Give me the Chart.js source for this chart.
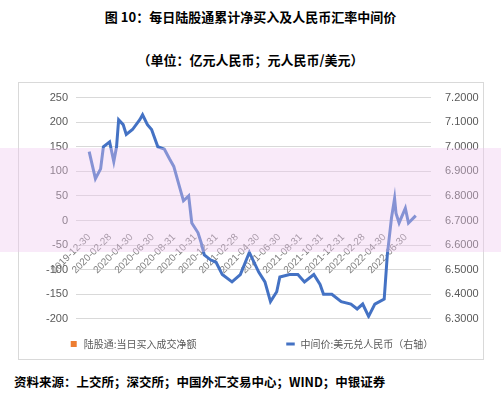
<!DOCTYPE html>
<html>
<head>
<meta charset="utf-8">
<script src="https://cdn.jsdelivr.net/npm/chart.js@4"></script>
<style>
  body { margin: 0; width: 501px; height: 400px; background: #fff; position: relative; overflow: hidden;
         font-family: "Noto Sans CJK SC", sans-serif; }
  .title { position: absolute; top: 7px; width: 100%; text-align: center; font-size: 13px; font-weight: bold; color: #000; }
  .sub { position: absolute; top: 50px; width: 100%; text-align: center; font-size: 13px; font-weight: bold; color: #000; }
  .box { position: absolute; left: 18px; top: 82px; width: 464px; height: 276px; border: 1px solid #d9d9d9; }
  .foot { position: absolute; top: 372px; left: 14px; font-size: 12.5px; font-weight: bold; color: #000; }
  .band { position: absolute; left: 0; top: 148px; width: 501px; height: 104px; background: rgba(238,200,238,0.38); pointer-events: none; }
</style>
</head>
<body>
<div class="title">图 10：每日陆股通累计净买入及人民币汇率中间价</div>
<div class="sub">（单位：亿元人民币；元人民币/美元）</div>
<div class="box"><canvas id="c" width="464" height="276"></canvas></div>
<div class="foot">资料来源：上交所；深交所；中国外汇交易中心；WIND；中银证券</div>
<div class="band"></div>
<script>
// USD/CNY central parity
const rateDates = ['2019-12-30','2020-01-17','2020-02-01','2020-02-09','2020-02-27','2020-03-10','2020-03-18','2020-03-24',
  '2020-04-06','2020-04-15','2020-05-03','2020-05-24','2020-06-01','2020-06-15','2020-06-27','2020-07-15','2020-08-03',
  '2020-08-18','2020-08-30','2020-09-15','2020-09-27','2020-10-12','2020-10-21','2020-11-08','2020-11-17','2020-11-26',
  '2020-12-14','2020-12-30','2021-01-17','2021-02-14','2021-03-10','2021-04-05','2021-05-02','2021-05-20','2021-06-05',
  '2021-06-23','2021-07-02','2021-07-30','2021-08-23','2021-09-11','2021-10-08','2021-10-26','2021-11-05','2021-11-29',
  '2021-12-26','2022-01-23','2022-02-10','2022-02-26','2022-03-15','2022-04-02','2022-04-29','2022-05-08','2022-05-20',
  '2022-05-29','2022-06-02','2022-06-11','2022-06-29','2022-07-08','2022-07-29'];
const rateValues = [6.98,6.87,6.91,7.00,7.02,6.94,7.00,7.11,7.09,7.05,7.07,7.11,7.13,7.09,7.07,7.00,6.99,
  6.95,6.92,6.84,6.78,6.80,6.69,6.65,6.61,6.56,6.54,6.53,6.48,6.45,6.48,6.57,6.49,6.45,6.37,
  6.41,6.47,6.48,6.48,6.45,6.48,6.44,6.40,6.40,6.37,6.36,6.34,6.36,6.31,6.36,6.38,6.56,6.71,
  6.79,6.73,6.69,6.75,6.69,6.72];
// daily northbound net buy: no bars visible in the picture
const netBuyDates = [];
const netBuyValues = [];
const tickDates = ['2019-12-30','2020-02-28','2020-04-30','2020-06-30','2020-08-31','2020-10-31','2020-12-31',
  '2021-02-28','2021-04-30','2021-06-30','2021-08-31','2021-10-31','2021-12-31','2022-02-28','2022-04-30','2022-06-30'];

const day = s => Date.parse(s) / 86400000;
const tickDays = tickDates.map(day);

new Chart(document.getElementById('c'), {
  data: {
    datasets: [
      { type: 'bar', label: '陆股通:当日买入成交净额', yAxisID: 'y', backgroundColor: '#ed7d31',
        data: netBuyDates.map((d, i) => ({ x: day(d), y: netBuyValues[i] })) },
      { type: 'line', label: '中间价:美元兑人民币（右轴）', yAxisID: 'y1', borderColor: '#4472c4',
        backgroundColor: '#4472c4', borderWidth: 3, pointRadius: 0, tension: 0,
        data: rateDates.map((d, i) => ({ x: day(d), y: rateValues[i] })) }
    ]
  },
  options: {
    responsive: false, animation: false,
    layout: { padding: { top: 4, bottom: 0 } },
    plugins: {
      legend: { position: 'bottom',
        title: { display: true, text: ' ', font: { size: 1 }, padding: { top: 0, bottom: 10 } },
        labels: { usePointStyle: true, boxWidth: 22, boxHeight: 6, color: '#595959', padding: 9,
          font: { size: 10, family: '"Noto Sans CJK SC"' },
          generateLabels: ch => ch.data.datasets.map((ds, i) => ({
            text: ds.label + (i ? '' : '\u3000\u3000\u3000\u3000\u3000\u3000\u3000\u3000'), datasetIndex: i, fillStyle: ds.backgroundColor, strokeStyle: ds.borderColor || ds.backgroundColor,
            lineWidth: i ? 3 : 0, pointStyle: i ? 'line' : 'rect', fontColor: '#595959' })) } },
      tooltip: { enabled: false }
    },
    scales: {
      x: { type: 'linear', position: { y: 0 }, min: day('2019-12-24'), max: day('2022-08-10'),
        afterBuildTicks: s => { s.ticks = tickDays.map(v => ({ value: v })); },
        afterFit: s => { s.height = 0; },
        grid: { display: false }, border: { display: false },
        ticks: { autoSkip: false, maxRotation: 45, minRotation: 45, color: '#7f7f7f', font: { size: 10 },
          callback: (v, i) => tickDates[i] } },
      y: { position: 'left', min: -200, max: 250, afterBuildTicks: s => { s.ticks = [-200,-150,-100,-50,0,50,100,150,200,250].map(v => ({ value: v })); },
        afterFit: s => { s.width = 57; },
        grid: { color: '#d9d9d9', drawTicks: false }, border: { display: false },
        ticks: { color: '#595959', font: { size: 11 }, padding: 8 } },
      y1: { position: 'right', min: 6.3, max: 7.2, afterBuildTicks: s => { s.ticks = [6.3,6.4,6.5,6.6,6.7,6.8,6.9,7.0,7.1,7.2].map(v => ({ value: v })); },
        afterFit: s => { s.width = 52; },
        grid: { display: false }, border: { display: false },
        ticks: { color: '#595959', font: { size: 11 }, padding: 6, callback: v => v.toFixed(4) } }
    }
  }
});
</script>
</body>
</html>
